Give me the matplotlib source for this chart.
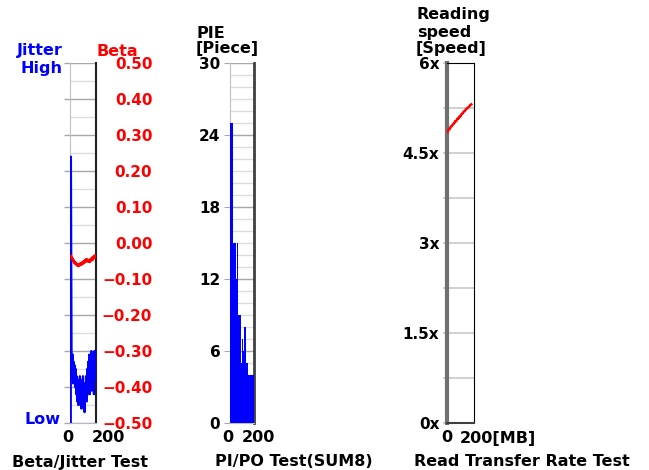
import numpy as np
import matplotlib
matplotlib.use("Agg")
import matplotlib.pyplot as plt
from matplotlib.ticker import MultipleLocator, FixedLocator

# ---- data ----
beta_ticks = [0.50, 0.40, 0.30, 0.20, 0.10, 0.00, -0.10, -0.20, -0.30, -0.40, -0.50]

jitter_mb = [6, 7] + list(range(12, 200, 4))
jitter_val = [
    -0.50, 0.24,
    -0.32, -0.38, -0.31, -0.39, -0.33, -0.37, -0.34, -0.40, -0.35, -0.42,
    -0.37, -0.44, -0.38, -0.45, -0.40, -0.44, -0.37, -0.45, -0.39, -0.46,
    -0.38, -0.44, -0.37, -0.45, -0.39, -0.47, -0.40, -0.43, -0.37, -0.44,
    -0.35, -0.42, -0.33, -0.41, -0.31, -0.42, -0.34, -0.40, -0.30, -0.41,
    -0.33, -0.39, -0.31, -0.42, -0.30, -0.38, -0.30,
]

beta_mb = list(range(4, 200, 4))
beta_val = [
    -0.036, -0.040, -0.038, -0.045, -0.043, -0.050, -0.048, -0.055, -0.052,
    -0.058, -0.055, -0.060, -0.058, -0.063, -0.060, -0.064, -0.059, -0.062, -0.058,
    -0.061, -0.056, -0.060, -0.055, -0.058, -0.052, -0.056, -0.050, -0.054, -0.048,
    -0.052, -0.045, -0.050, -0.046, -0.051, -0.047, -0.052, -0.048, -0.053, -0.045,
    -0.049, -0.043, -0.047, -0.040, -0.046, -0.038, -0.042, -0.036, -0.040, -0.035,
]

pie_mb = list(range(0, 200, 8))
pie_val = [25, 25, 25, 15, 15, 15, 12, 15, 9, 9, 9, 5, 7, 7, 6, 8, 8, 5, 5, 4,
           4, 4, 4, 4, 4]
pie_ticks = [0, 6, 12, 18, 24, 30]

speed_mb = list(range(4, 184, 8))
speed_val = [4.85, 4.89, 4.90, 4.94, 4.95, 4.98, 4.99, 5.03, 5.03, 5.07, 5.07,
             5.11, 5.11, 5.15, 5.16, 5.19, 5.20, 5.23, 5.24, 5.26, 5.27, 5.30, 5.31]
speed_ticks = [0, 1.5, 3, 4.5, 6]
speed_labels = ["0x", "1.5x", "3x", "4.5x", "6x"]

W, H = 649, 470
BLUE = "#0000ff"
RED = "#ff0000"
FONT = dict(fontweight="bold", fontsize=11.5, family="DejaVu Sans")
TICK_SIZE = 11

fig = plt.figure(figsize=(W / 100, H / 100), dpi=100)


def px(x, y):
    return x / W, 1 - y / H


def make_axes(left, right):
    ax = fig.add_axes([left / W, (H - 423) / H, (right - left) / W, 360 / H])
    ax.set_xlim(0, 200)
    ax.set_xticks([])
    for s in ax.spines.values():
        s.set_zorder(2.5)
    return ax


def fig_text(x, y, s, ha="left", color="black"):
    fig.text(*px(x, y), s, ha=ha, va="center", color=color, **FONT)


# ---- Beta / Jitter ----
ax1 = make_axes(70, 96)
ax1.set_ylim(-0.5, 0.5)
ax1.yaxis.set_major_locator(FixedLocator(beta_ticks))
ax1.yaxis.set_minor_locator(MultipleLocator(0.05))
ax1.grid(True, which="minor", axis="y", color="#dcdcdc", lw=1)
ax1.grid(True, which="major", axis="y", color="#a8a8a8", lw=1)
ax1.tick_params(axis="y", which="major", left=True, right=False,
                labelleft=False, labelright=True, length=4.5, width=1,
                color="#a8a8a8", pad=36, labelcolor=RED, labelsize=TICK_SIZE)
ax1.tick_params(axis="y", which="minor", left=False, right=False)
ax1.set_yticklabels([f"{v:.2f}".replace("-", "\u2212") for v in beta_ticks])
for lab in ax1.get_yticklabels():
    lab.set_horizontalalignment("right")
    lab.set_fontweight("bold")
ax1.spines["left"].set_color("#c0c0c0")
ax1.spines["top"].set_visible(False)
ax1.spines["bottom"].set_color("#b8b8c8")
ax1.spines["right"].set_color("#202020")
ax1.spines["right"].set_linewidth(1.5)
ax1.plot(jitter_mb, jitter_val, color=BLUE, lw=1.6, zorder=3)
ax1.plot(beta_mb, beta_val, color=RED, lw=1.8, zorder=4)

fig_text(63, 51, "Jitter", ha="right", color=BLUE)
fig_text(62, 68, "High", ha="right", color=BLUE)
fig_text(97, 51, "Beta", color=RED)
fig_text(60, 420, "Low", ha="right", color=BLUE)
fig_text(68, 438, "0", ha="center")
fig_text(92, 438, "200")
fig_text(80, 462, "Beta/Jitter Test", ha="center")

# ---- PI/PO ----
ax2 = make_axes(230, 254)
ax2.set_ylim(0, 30)
ax2.yaxis.set_major_locator(FixedLocator(pie_ticks))
ax2.yaxis.set_minor_locator(MultipleLocator(1))
ax2.grid(True, which="minor", axis="y", color="#dcdcdc", lw=1)
ax2.grid(True, which="major", axis="y", color="#a8a8a8", lw=1)
ax2.tick_params(axis="y", which="major", length=4.5, color="#a8a8a8",
                pad=2.5, labelsize=TICK_SIZE)
ax2.tick_params(axis="y", which="minor", left=False)
for lab in ax2.get_yticklabels():
    lab.set_fontweight("bold")
ax2.spines["left"].set_color("#c0c0c0")
ax2.spines["top"].set_visible(False)
ax2.spines["bottom"].set_color("#c0c0c0")
ax2.spines["right"].set_color("#404040")
ax2.spines["right"].set_linewidth(2)
ax2.bar(pie_mb, pie_val, width=8, align="edge", color=BLUE, lw=0, zorder=3)

fig_text(197, 33, "PIE")
fig_text(196, 48, "[Piece]")
fig_text(228, 438, "0", ha="center")
fig_text(242, 438, "200")
fig_text(294, 462, "PI/PO Test(SUM8)", ha="center")

# ---- Read transfer rate ----
ax3 = make_axes(447, 474)
ax3.set_ylim(0, 6)
ax3.yaxis.set_major_locator(FixedLocator(speed_ticks))
ax3.yaxis.set_minor_locator(MultipleLocator(0.75))
ax3.set_yticklabels(speed_labels)
ax3.grid(True, which="both", axis="y", color="#c8c8c8", lw=1.2)
ax3.tick_params(axis="y", which="both", length=3, color="#c8c8c8",
                width=1.2, pad=2.5, labelsize=TICK_SIZE)
for lab in ax3.get_yticklabels():
    lab.set_fontweight("bold")
ax3.spines["left"].set_color("#707070")
ax3.spines["left"].set_linewidth(3)
ax3.spines["right"].set_color("black")
ax3.spines["top"].set_color("black")
ax3.spines["bottom"].set_color("#404040")
ax3.spines["bottom"].set_linewidth(1.5)
ax3.plot(speed_mb, speed_val, color=RED, lw=1.8, zorder=4)

fig_text(417, 15, "Reading")
fig_text(417, 32, "speed")
fig_text(416, 48, "[Speed]")
fig_text(447, 438, "0", ha="center")
fig_text(460, 438, "200[MB]")
fig_text(522, 462, "Read Transfer Rate Test", ha="center")

fig.savefig("out.png", dpi=100)
